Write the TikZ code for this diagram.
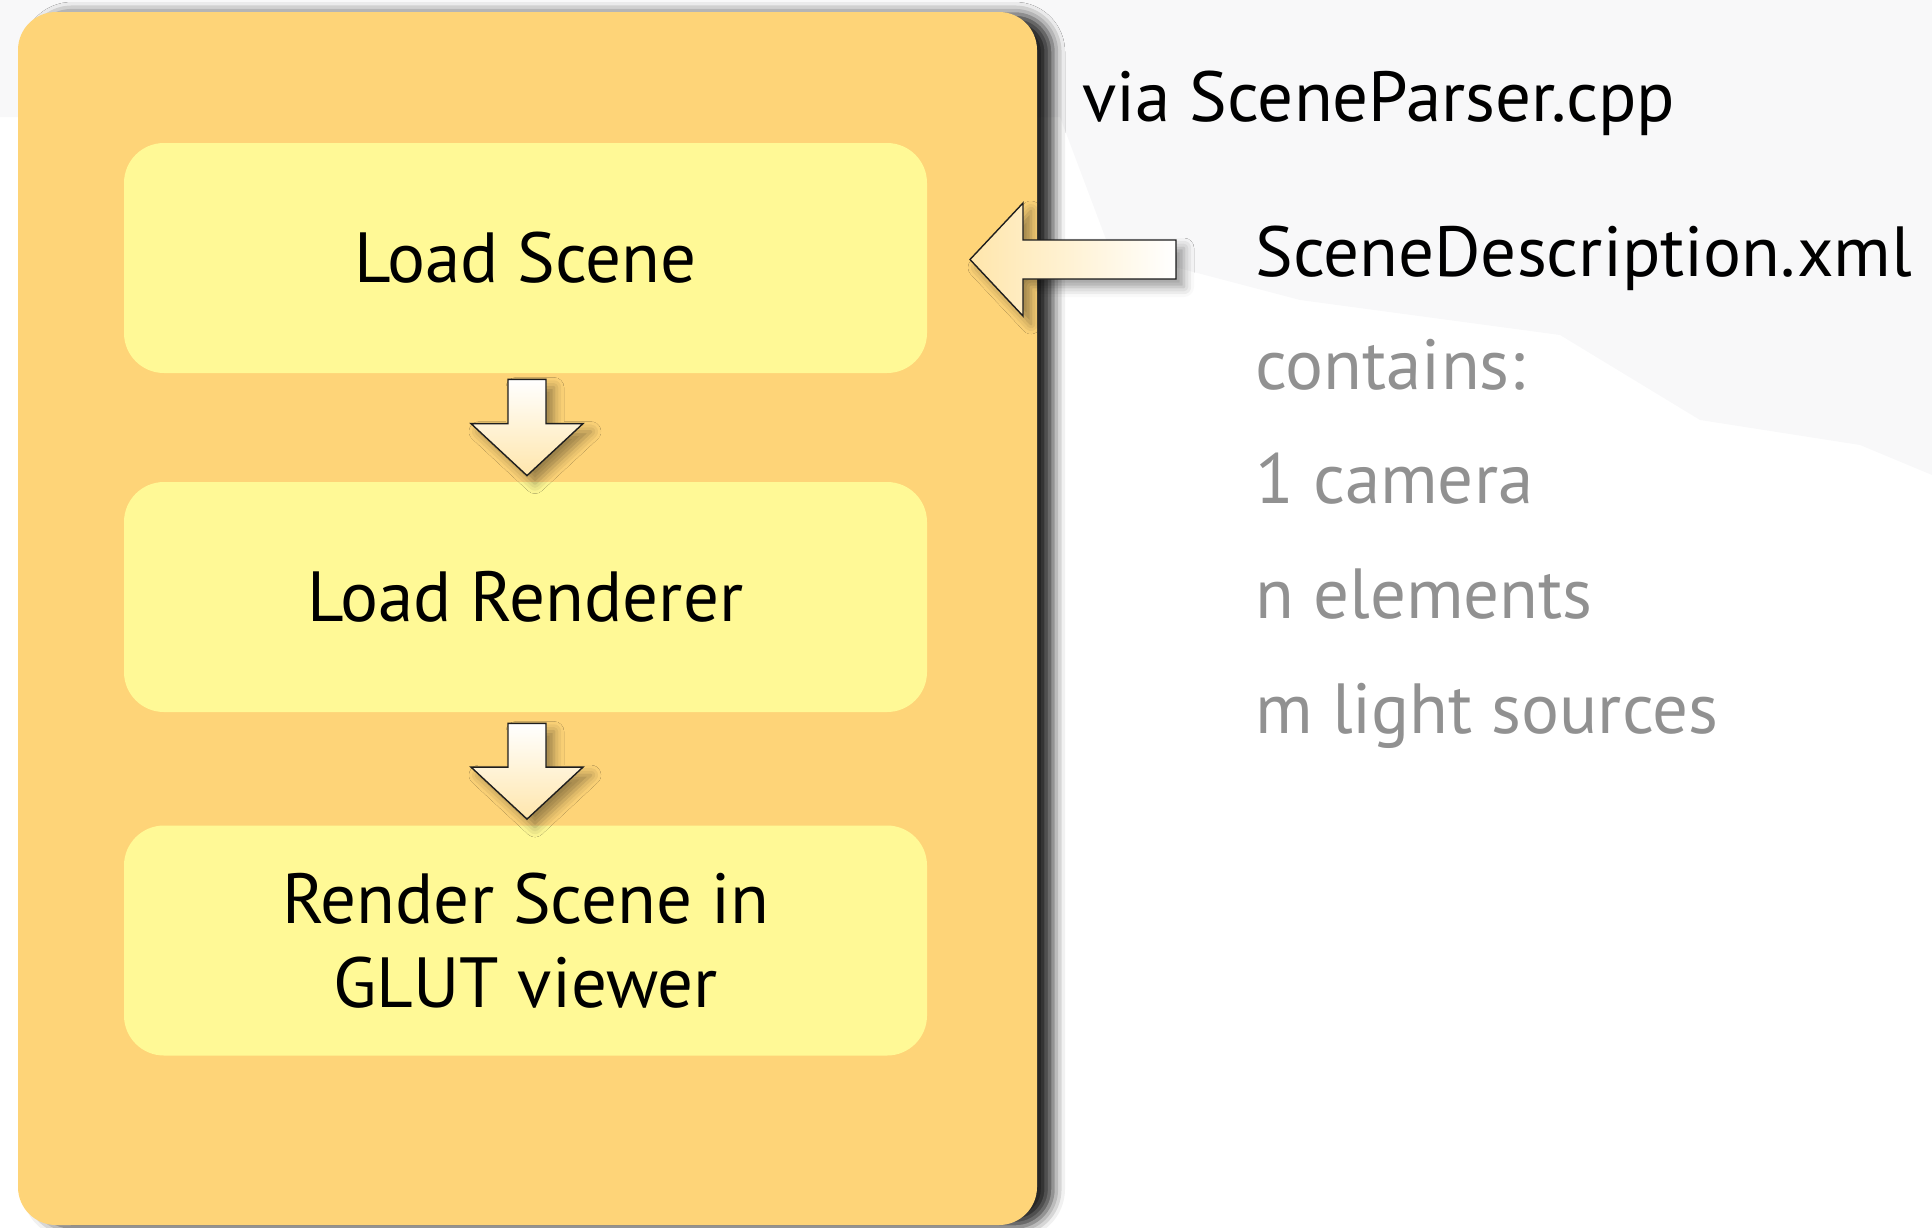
\documentclass[tikz,border=0pt]{standalone}
\usepackage{fontspec}
\setmainfont{PT Sans}
\usetikzlibrary{calc,shadows.blur}

\definecolor{outerfill}{RGB}{254,212,120}
\definecolor{innerfill}{RGB}{255,249,150}
\definecolor{cream}{RGB}{255,230,172}
\definecolor{haze}{RGB}{248,248,249}
\definecolor{softgray}{RGB}{145,145,145}
\definecolor{edge}{RGB}{30,30,30}

\tikzset{
  panel/.style={draw=none, fill=outerfill, rounded corners=19pt,
    minimum width=509.5pt, minimum height=606.5pt, inner sep=0pt,
    blur shadow={shadow xshift=8pt, shadow yshift=-1pt,
      shadow blur radius=6pt, shadow opacity=85}},
  stage/.style={draw=none, fill=innerfill, rounded corners=20pt,
    minimum width=401.5pt, minimum height=115pt, inner sep=0pt,
    align=center, font=\fontsize{35.5}{42}\selectfont},
  blockarrow/.style={draw=edge, line width=0.7pt, line join=miter,
    blur shadow={shadow xshift=4pt, shadow yshift=-4pt,
      shadow blur radius=5pt, shadow opacity=40}},
  heading/.style={anchor=base west, inner sep=0pt, text=black,
    font=\fontsize{35.5}{40}\selectfont},
  item/.style={heading, text=softgray},
}

\begin{document}
\begin{tikzpicture}[x=0.5pt, y=-0.5pt]
  \useasboundingbox (0,0) rectangle (1932,1227);

  % faint backdrop along the top and to the right
  \fill[haze] (0,0) -- (1932,0) -- (1932,475) -- (1860,445) -- (1700,420)
    -- (1560,335) -- (1300,300) -- (1110,250) -- (1060,117) -- (0,117) -- cycle;

  % program flow panel
  \node[panel] (outer) at (527.5,618.5) {};

  \node[stage] (b1) at (525.5,258) {Load Scene};
  \node[stage] (b2) at (525.5,597) {Load Renderer};
  \node[stage] (b3) at (525.5,940.5) {Render Scene in\\GLUT viewer};

  % downward block arrows between stages
  \coordinate (a1t) at ($(b1.south)+(1.5,6)$);
  \coordinate (a1h) at ($(b2.north)+(1.5,-6)$);
  \coordinate (a2t) at ($(b2.south)+(1.5,11)$);
  \coordinate (a2h) at ($(b3.north)+(1.5,-6)$);
  \foreach \t/\h in {a1t/a1h, a2t/a2h}{
    \draw[blockarrow, top color=white, bottom color=cream]
      ($(\t)+(-19,0)$) -- ($(\t)+(19,0)$) -- ($(\h)+(19,-52)$)
      -- ($(\h)+(56,-52)$) -- (\h) -- ($(\h)+(-56,-52)$)
      -- ($(\h)+(-19,-52)$) -- cycle;
  }

  % input file and its notes
  \node[heading] (parser) at (1082,121) {via SceneParser.cpp};
  \node[heading] (xml) at (1255,276) {SceneDescription.xml};
  \node[item] (contains) at (1255,389) {contains:};
  \node[item] (camera) at (1255,503) {1 camera};
  \node[item] (elements) at (1255,618) {n elements};
  \node[item] (lights) at (1255,733) {m light sources};

  % block arrow from the scene file into the panel
  \coordinate (lt) at (970,259.5);
  \coordinate (ls) at (1176,259.5);
  \draw[blockarrow, left color=cream, right color=white]
    ($(ls)+(0,-19.5)$) -- ($(lt)+(53,-19.5)$) -- ($(lt)+(53,-56.5)$)
    -- (lt) -- ($(lt)+(53,56.5)$) -- ($(lt)+(53,19.5)$)
    -- ($(ls)+(0,19.5)$) -- cycle;
\end{tikzpicture}
\end{document}
